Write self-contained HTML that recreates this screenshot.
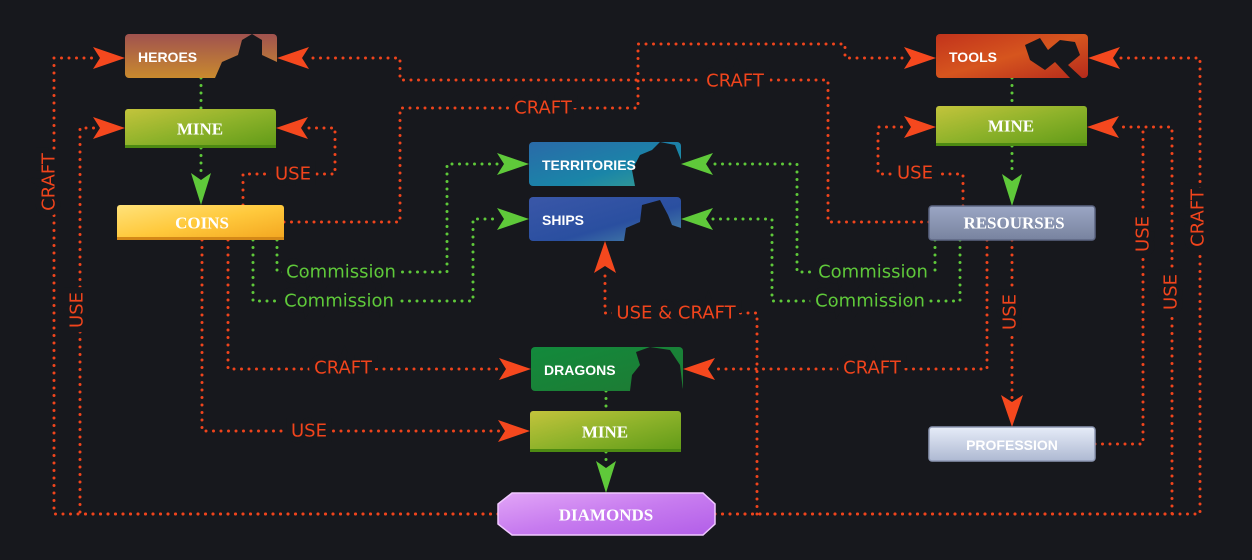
<!DOCTYPE html>
<html><head><meta charset="utf-8"><style>
html,body{margin:0;padding:0;background:#17181d;}
svg{display:block;}
.o{fill:none;stroke:#f0441c;stroke-width:3;stroke-linecap:round;stroke-dasharray:0 7.5;stroke-linejoin:round}
.g{fill:none;stroke:#5fc93a;stroke-width:3;stroke-linecap:round;stroke-dasharray:0 7.5}
.ol{font-family:"DejaVu Sans","Liberation Sans",sans-serif;font-size:18px;fill:#f0441c;paint-order:stroke;stroke:#17181d;stroke-width:12px;text-anchor:middle;dominant-baseline:central}
.gl{font-family:"DejaVu Sans","Liberation Sans",sans-serif;font-size:18px;fill:#5fc93a;paint-order:stroke;stroke:#17181d;stroke-width:12px;text-anchor:middle;dominant-baseline:central}
.nt{font-family:"Liberation Serif",serif;font-weight:bold;fill:#fff;dominant-baseline:central;text-anchor:middle}
.nts{font-family:"Liberation Sans",sans-serif;font-weight:bold;fill:#fff;dominant-baseline:central}
</style></head><body>
<svg width="1252" height="560" viewBox="0 0 1252 560" xmlns="http://www.w3.org/2000/svg">
<defs>
<linearGradient id="heroes" x1="0" y1="0" x2="0" y2="1"><stop offset="0" stop-color="#a0524f"/><stop offset="1" stop-color="#c98a2e"/></linearGradient>
<linearGradient id="mine" x1="0" y1="0" x2="1" y2="1"><stop offset="0" stop-color="#c3c43c"/><stop offset="0.5" stop-color="#8db22a"/><stop offset="1" stop-color="#5f9a17"/></linearGradient>
<linearGradient id="coins" x1="0" y1="0" x2="1" y2="1"><stop offset="0" stop-color="#ffe27a"/><stop offset="0.5" stop-color="#ffc93c"/><stop offset="1" stop-color="#f3a51f"/></linearGradient>
<linearGradient id="terr" x1="0" y1="0" x2="1" y2="1"><stop offset="0" stop-color="#2a6aa8"/><stop offset="0.6" stop-color="#1a85a8"/><stop offset="1" stop-color="#3aa08f"/></linearGradient>
<linearGradient id="ships" x1="0" y1="0" x2="1" y2="1"><stop offset="0" stop-color="#3a57a8"/><stop offset="0.6" stop-color="#2a4fa0"/><stop offset="1" stop-color="#4a8aa8"/></linearGradient>
<linearGradient id="tools" x1="0" y1="0" x2="1" y2="1"><stop offset="0" stop-color="#c2331c"/><stop offset="0.5" stop-color="#d6551e"/><stop offset="1" stop-color="#b52a1c"/></linearGradient>
<linearGradient id="res" x1="0" y1="0" x2="0" y2="1"><stop offset="0" stop-color="#9ba6c4"/><stop offset="1" stop-color="#78839f"/></linearGradient>
<linearGradient id="prof" x1="0" y1="0" x2="0" y2="1"><stop offset="0" stop-color="#e6ecf8"/><stop offset="1" stop-color="#aeb9d2"/></linearGradient>
<linearGradient id="drag" x1="0" y1="0" x2="1" y2="1"><stop offset="0" stop-color="#128a3c"/><stop offset="1" stop-color="#1f7a33"/></linearGradient>
<linearGradient id="dia" x1="0" y1="0" x2="1" y2="1"><stop offset="0" stop-color="#e2a5f7"/><stop offset="0.5" stop-color="#c77bef"/><stop offset="1" stop-color="#b25ee8"/></linearGradient>
</defs>

<!-- orange connectors -->
<path class="o" d="M498,514 H54 V58 H96"/>
<path class="o" d="M498,514 H80 V128 H96"/>
<path class="o" d="M929,222 H828 V80 H400 V58 H306"/>
<path class="o" d="M284,222 H400 V108 H638 V44 H845 V58 H907"/>
<path class="o" d="M243,205 V174 H335 V128 H305"/>
<path class="o" d="M963,206 V174 H878 V127 H907"/>
<path class="o" d="M715,514 H1200 V58 H1117"/>
<path class="o" d="M715,514 H1172 V127 H1116"/>
<path class="o" d="M1095,444 H1143 V127"/>
<path class="o" d="M1012,240 V398"/>
<path class="o" d="M987,240 V369 H712"/>
<path class="o" d="M228,240 V369 H502"/>
<path class="o" d="M202,240 V431 H501"/>
<path class="o" d="M757,514 V313 H605 V270"/>

<!-- green connectors -->
<path class="g" d="M201,78 V109"/>
<path class="g" d="M201,148 V176"/>
<path class="g" d="M1012,78 V106"/>
<path class="g" d="M1012,146 V176"/>
<path class="g" d="M606,391 V411"/>
<path class="g" d="M606,452 V464"/>
<path class="g" d="M277,240 V272 H447 V164 H500"/>
<path class="g" d="M253,240 V301 H473 V219 H500"/>
<path class="g" d="M935,240 V272 H797 V164 H710"/>
<path class="g" d="M960,240 V301 H772 V219 H710"/>

<!-- orange arrowheads -->
<g fill="#f5481e">
<polygon points="125,58 93,47 100,58 93,69"/>
<polygon points="125,128 93,117 100,128 93,139"/>
<polygon points="277,58 309,47 302,58 309,69"/>
<polygon points="276,128 308,117 301,128 308,139"/>
<polygon points="936,58 904,47 911,58 904,69"/>
<polygon points="936,127 904,116 911,127 904,138"/>
<polygon points="1088,58 1120,47 1113,58 1120,69"/>
<polygon points="1087,127 1119,116 1112,127 1119,138"/>
<polygon points="531,369 499,358 506,369 499,380"/>
<polygon points="530,431 498,420 505,431 498,442"/>
<polygon points="683,369 715,358 708,369 715,380"/>
<polygon points="1012,427 1001,395 1012,402 1023,395"/>
<polygon points="605,241 594,273 605,266 616,273"/>
</g>
<!-- green arrowheads -->
<g fill="#5fc93a">
<polygon points="201,205 191,173 201,180 211,173"/>
<polygon points="1012,206 1002,174 1012,181 1022,174"/>
<polygon points="606,493 596,461 606,468 616,461"/>
<polygon points="529,164 497,153 504,164 497,175"/>
<polygon points="529,219 497,208 504,219 497,230"/>
<polygon points="681,164 713,153 706,164 713,175"/>
<polygon points="681,219 713,208 706,219 713,230"/>
</g>

<!-- labels -->
<text class="ol" x="735" y="81">CRAFT</text>
<text class="ol" x="543" y="108">CRAFT</text>
<text class="ol" x="293" y="174">USE</text>
<text class="ol" x="915" y="173">USE</text>
<text class="ol" x="343" y="368">CRAFT</text>
<text class="ol" x="872" y="368">CRAFT</text>
<text class="ol" x="309" y="431">USE</text>
<text class="ol" x="676" y="313">USE &amp; CRAFT</text>
<text class="ol" transform="translate(49,182) rotate(-90)">CRAFT</text>
<text class="ol" transform="translate(77,310) rotate(-90)">USE</text>
<text class="ol" transform="translate(1198,218) rotate(-90)">CRAFT</text>
<text class="ol" transform="translate(1171,292) rotate(-90)">USE</text>
<text class="ol" transform="translate(1143,234) rotate(-90)">USE</text>
<text class="ol" transform="translate(1010,312) rotate(-90)">USE</text>
<text class="gl" x="341" y="272">Commission</text>
<text class="gl" x="339" y="301">Commission</text>
<text class="gl" x="873" y="272">Commission</text>
<text class="gl" x="870" y="301">Commission</text>

<!-- nodes -->
<rect x="125" y="34" width="152" height="44" rx="4" fill="url(#heroes)"/>
<path d="M215,78 L222,62 L238,55 L242,40 L252,34 L262,40 L262,55 L277,62 L277,78 Z" fill="#17181d"/>
<text class="nts" x="138" y="57" font-size="14">HEROES</text>

<rect x="125" y="109" width="151" height="39" rx="3" fill="url(#mine)"/>
<rect x="125" y="145" width="151" height="3" fill="#4d8a12"/>
<text class="nt" x="200" y="129" font-size="17">MINE</text>

<rect x="117" y="205" width="167" height="35" rx="3" fill="url(#coins)"/>
<rect x="117" y="237" width="167" height="3" fill="#d48817"/>
<text class="nt" x="202" y="223" font-size="17">COINS</text>

<rect x="529" y="142" width="152" height="44" rx="4" fill="url(#terr)"/>
<path d="M635,186 L632,170 L640,155 L652,150 L660,142 L675,145 L681,160 L681,186 Z" fill="#17181d"/>
<text class="nts" x="542" y="165" font-size="14">TERRITORIES</text>

<rect x="529" y="197" width="152" height="44" rx="4" fill="url(#ships)"/>
<path d="M624,241 L626,228 L640,222 L642,205 L660,200 L668,215 L672,225 L681,228 L681,241 Z" fill="#17181d"/>
<text class="nts" x="542" y="220" font-size="14">SHIPS</text>

<rect x="936" y="34" width="152" height="44" rx="4" fill="url(#tools)"/>
<path d="M1025,45 L1040,38 L1048,50 L1060,40 L1075,42 L1080,55 L1068,65 L1082,78 L1070,78 L1055,62 L1045,70 L1030,60 Z" fill="#17181d"/>
<text class="nts" x="949" y="57" font-size="14">TOOLS</text>

<rect x="936" y="106" width="151" height="40" rx="3" fill="url(#mine)"/>
<rect x="936" y="143" width="151" height="3" fill="#4d8a12"/>
<text class="nt" x="1011" y="126" font-size="17">MINE</text>

<rect x="929" y="206" width="166" height="34" rx="3" fill="url(#res)" stroke="#5d6683" stroke-width="1.5"/>
<text class="nt" x="1014" y="223" font-size="17">RESOURSES</text>

<rect x="531" y="347" width="152" height="44" rx="4" fill="url(#drag)"/>
<path d="M630,391 L632,375 L640,365 L636,352 L650,347 L670,350 L680,365 L683,391 Z" fill="#17181d"/>
<text class="nts" x="544" y="370" font-size="14">DRAGONS</text>

<rect x="530" y="411" width="151" height="41" rx="3" fill="url(#mine)"/>
<rect x="530" y="449" width="151" height="3" fill="#4d8a12"/>
<text class="nt" x="605" y="432" font-size="17">MINE</text>

<polygon points="512,493 703,493 715,504 715,524 703,535 512,535 498,524 498,504" fill="url(#dia)" stroke="#f0c8ff" stroke-width="1.5"/>
<text class="nt" x="606" y="515" font-size="17">DIAMONDS</text>

<rect x="929" y="427" width="166" height="34" rx="3" fill="url(#prof)" stroke="#8d98b4" stroke-width="1.5"/>
<text class="nts" x="1012" y="445" font-size="14" text-anchor="middle">PROFESSION</text>
</svg>
</body></html>
